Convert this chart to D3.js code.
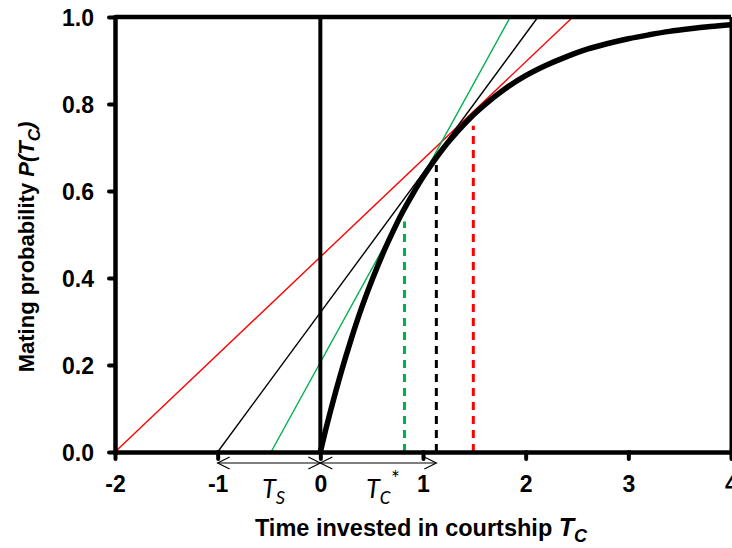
<!DOCTYPE html>
<html><head><meta charset="utf-8">
<script src="https://cdn.jsdelivr.net/npm/d3@7"></script>
<style>
html,body{margin:0;padding:0;background:#fff;}
svg{display:block;font-family:"Liberation Sans",Arial,sans-serif;}
</style></head>
<body>
<svg id="c" width="732" height="548"></svg>
<script>
// ---- data ----
const xTicks = [-2, -1, 0, 1, 2, 3, 4];
const xTickLabels = ["-2", "-1", "0", "1", "2", "3", "4"];
const yTicks = [0, 0.2, 0.4, 0.6, 0.8, 1.0];
const yTickLabels = ["0.0", "0.2", "0.4", "0.6", "0.8", "1.0"];

// saturating mating-probability curve P(Tc)
const curveX = [0, 0.05, 0.1, 0.15, 0.2, 0.3, 0.4, 0.5, 0.6, 0.7, 0.8, 0.9, 1.0, 1.1, 1.2, 1.3, 1.4, 1.5, 1.6, 1.8, 2.0, 2.2, 2.4, 2.6, 2.8, 3.0, 3.2, 3.4, 3.6, 3.8, 4.0];
const curveY = [0, 0.049, 0.095, 0.139, 0.181, 0.259, 0.330, 0.393, 0.451, 0.503, 0.551, 0.593, 0.632, 0.667, 0.699, 0.727, 0.753, 0.777, 0.798, 0.835, 0.865, 0.889, 0.909, 0.926, 0.939, 0.950, 0.959, 0.967, 0.973, 0.978, 0.982];

// tangent lines from -Ts on the x-axis
const tangentNames = ["red", "black", "green"];
const tangentStartX = [-2.0, -1.0, -0.48];
const tangentEndX = [2.46, 2.12, 1.85];
const tangentColors = ["#ff0000", "#000000", "#00b050"];

// optimal courtship time (dashed)
const optimumX = [1.49, 1.13, 0.82];
const optimumTop = [0.75, 0.66, 0.53];

// arrows under the axis: Ts and Tc*
const arrowFrom = [-1, 0];
const arrowTo = [0, 1.13];

// ---- layout ----
const svg = d3.select("#c");
const x = d3.scaleLinear().domain([-2, 4]).range([115, 731]);
const y = d3.scaleLinear().domain([0, 1]).range([452, 17]);

// tangent lines
const line = d3.line().x(d => x(d[0])).y(d => y(d[1]));
tangentNames.forEach((n, i) => {
  svg.append("path")
    .attr("d", line([[tangentStartX[i], 0], [tangentEndX[i], 1]]))
    .attr("fill", "none").attr("stroke", tangentColors[i]).attr("stroke-width", 1.4);
});

// dashed optimum lines
tangentNames.forEach((n, i) => {
  svg.append("line")
    .attr("x1", x(optimumX[i])).attr("x2", x(optimumX[i]))
    .attr("y1", y(0)).attr("y2", y(optimumTop[i]))
    .attr("stroke", tangentColors[i]).attr("stroke-width", 3)
    .attr("stroke-dasharray", "8,6");
});

// curve
const pts = curveX.map((v, i) => [v, curveY[i]]);
svg.append("path")
  .attr("d", d3.line().x(d => x(d[0])).y(d => y(d[1])).curve(d3.curveMonotoneX)(pts))
  .attr("fill", "none").attr("stroke", "#000").attr("stroke-width", 5.5);

// vertical line at 0
svg.append("line")
  .attr("x1", x(0)).attr("x2", x(0)).attr("y1", y(1)).attr("y2", y(0))
  .attr("stroke", "#000").attr("stroke-width", 4);

// frame
svg.append("line").attr("x1", x(-2)).attr("x2", x(4)).attr("y1", y(1)).attr("y2", y(1))
  .attr("stroke", "#000").attr("stroke-width", 4.5);
svg.append("line").attr("x1", x(4)).attr("x2", x(4)).attr("y1", y(1)).attr("y2", y(0))
  .attr("stroke", "#000").attr("stroke-width", 3);

// axes
const xAxis = d3.axisBottom(x).tickValues(xTicks).tickFormat((d, i) => xTickLabels[i])
  .tickSizeInner(7).tickSizeOuter(0).tickPadding(20);
const gx = svg.append("g").attr("transform", `translate(0,${y(0)})`).call(xAxis);
const yAxis = d3.axisLeft(y).tickValues(yTicks).tickFormat((d, i) => yTickLabels[i])
  .tickSizeInner(6).tickSizeOuter(0).tickPadding(15);
const gy = svg.append("g").attr("transform", `translate(${x(-2)},0)`).call(yAxis);
[gx, gy].forEach(g => {
  g.select(".domain").attr("stroke-width", 4.5).attr("stroke-linecap", "square");
  g.selectAll(".tick line").attr("stroke-width", 4).attr("stroke-linecap", "round");
  g.selectAll(".tick text").attr("font-size", 23).attr("font-weight", "bold")
    .attr("font-family", "'Liberation Sans',Arial,sans-serif").attr("fill", "#000");
});
gx.selectAll(".tick text").attr("dy", "0.55em");
gy.selectAll(".tick text").attr("dy", "0.36em");

// arrows
const ay = 463;
arrowFrom.forEach((a, i) => {
  const x1 = x(a), x2 = x(arrowTo[i]);
  svg.append("line").attr("x1", x1).attr("x2", x2).attr("y1", ay).attr("y2", ay)
    .attr("stroke", "#000").attr("stroke-width", 1.2);
  svg.append("path").attr("d", `M${x1 + 12},${ay - 6}L${x1},${ay}L${x1 + 12},${ay + 6}`)
    .attr("fill", "none").attr("stroke", "#000").attr("stroke-width", 1.2);
  svg.append("path").attr("d", `M${x2 - 12},${ay - 6}L${x2},${ay}L${x2 - 12},${ay + 6}`)
    .attr("fill", "none").attr("stroke", "#000").attr("stroke-width", 1.2);
});

// Ts and Tc* labels
const ts = svg.append("text").attr("x", 262).attr("y", 498)
  .attr("font-family", "Carlito,'Liberation Sans',sans-serif").attr("font-style", "italic")
  .attr("font-size", 28).attr("fill", "#000");
ts.append("tspan").text("T");
ts.append("tspan").attr("font-size", 20).attr("dy", 6).text("S");

const tc = svg.append("text").attr("x", 366).attr("y", 498)
  .attr("font-family", "Carlito,'Liberation Sans',sans-serif").attr("font-style", "italic")
  .attr("font-size", 28).attr("fill", "#000");
tc.append("tspan").text("T");
tc.append("tspan").attr("font-size", 20).attr("dy", 6).text("C");
tc.append("tspan").attr("font-size", 22).attr("dy", -18).attr("font-style", "normal").text("*");

// axis titles
const xt = svg.append("text").attr("x", 421).attr("y", 536).attr("text-anchor", "middle")
  .attr("font-size", 23.5).attr("font-weight", "bold").attr("fill", "#000");
xt.append("tspan").text("Time invested in courtship ");
xt.append("tspan").attr("font-style", "italic").attr("font-size", 25).text("T");
xt.append("tspan").attr("font-style", "italic").attr("font-size", 18).attr("dy", 6).text("C");

const yt = svg.append("text").attr("transform", "translate(34,247) rotate(-90)")
  .attr("text-anchor", "middle")
  .attr("font-size", 22).attr("font-weight", "bold").attr("fill", "#000");
yt.append("tspan").text("Mating probability ");
yt.append("tspan").attr("font-style", "italic").text("P(T");
yt.append("tspan").attr("font-style", "italic").attr("font-size", 17).attr("dy", 6).text("C");
yt.append("tspan").attr("font-style", "italic").attr("dy", -6).text(")");
</script>
</body></html>
